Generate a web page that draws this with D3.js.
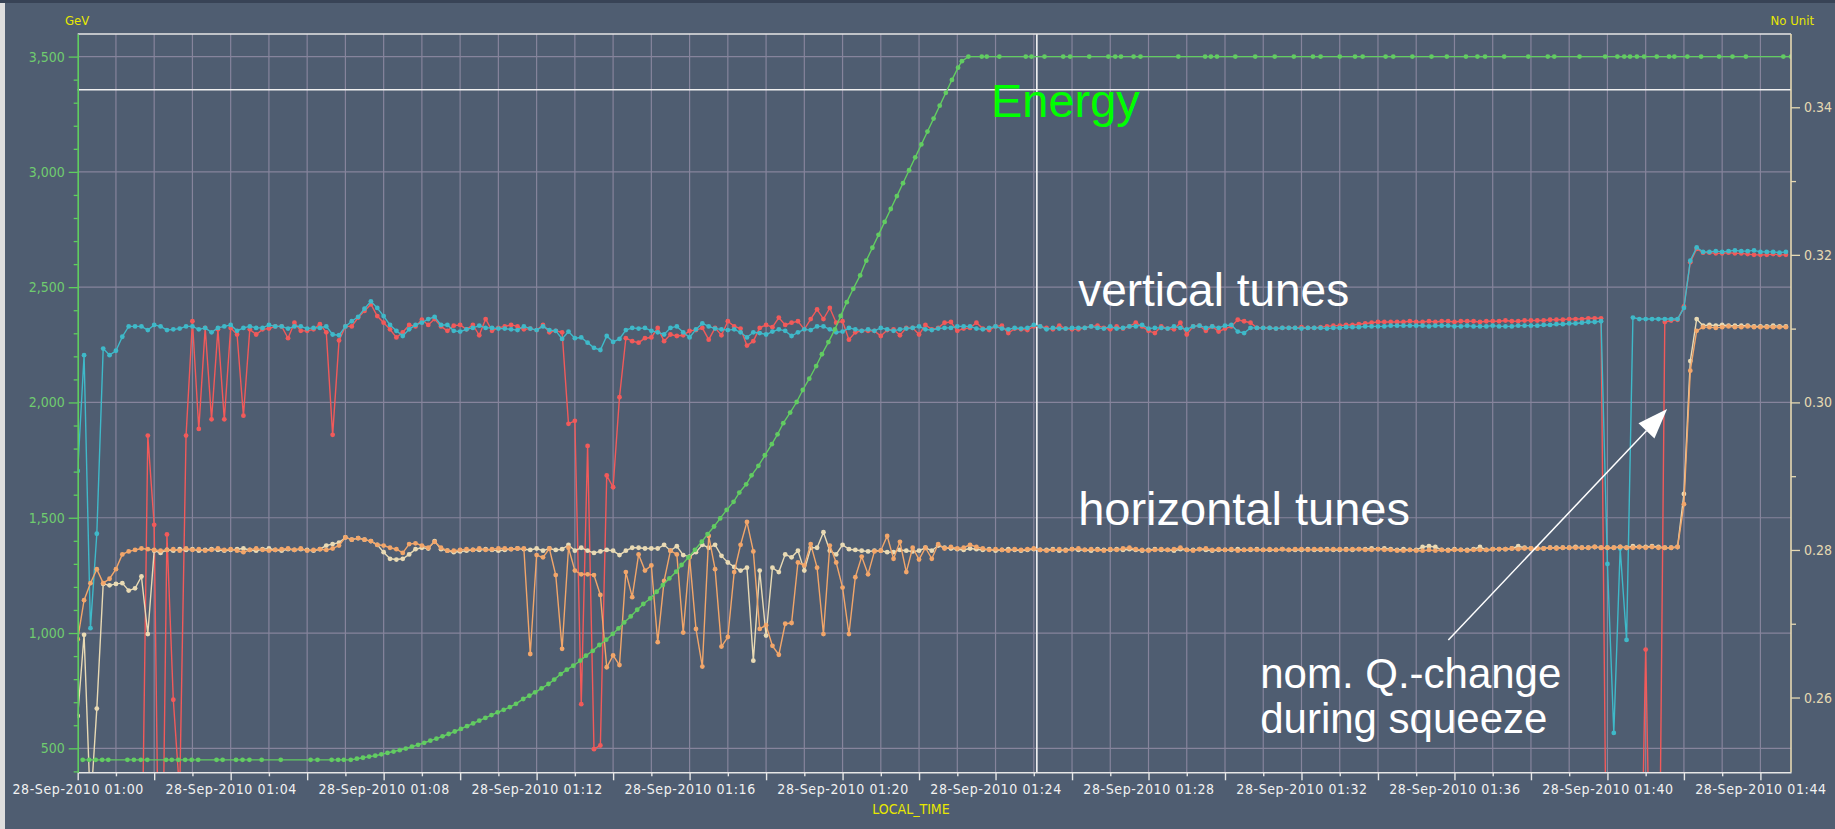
<!DOCTYPE html>
<html>
<head>
  <meta charset="utf-8">
  <title>LHC tunes through ramp and squeeze</title>
  <style>
  body {
    margin: 0;
    background: #4f5d71;
  }
  svg {
    display: block;
  }
  .axis text {
    font-family: "DejaVu Sans Condensed", "DejaVu Sans", sans-serif;
  }
  .note {
    font-family: "Liberation Sans", Arial, sans-serif;
  }
</style>
</head>

<body>
  <div id="viz"></div>

  <script src="https://d3js.org/d3.v7.min.js"></script>
  <script>
    // ---- data (28-Sep-2010, from 01:00) ----

    // tune samples, seconds after 01:00:00
    const tuneSec = [
      0,10,20,30,40,50,60,70,80,90,100,110,120,130,140,150,160,170,180,190,
      200,210,220,230,240,250,260,270,280,290,300,310,320,330,340,350,360,370,380,390,
      400,410,420,430,440,450,460,470,480,490,500,510,520,530,540,550,560,570,580,590,
      600,610,620,630,640,650,660,670,680,690,700,710,720,730,740,750,760,770,780,790,
      800,810,820,830,840,850,860,870,880,890,900,910,920,930,940,950,960,970,980,990,
      1000,1010,1020,1030,1040,1050,1060,1070,1080,1090,1100,1110,1120,1130,1140,1150,1160,1170,1180,1190,
      1200,1210,1220,1230,1240,1250,1260,1270,1280,1290,1300,1310,1320,1330,1340,1350,1360,1370,1380,1390,
      1400,1410,1420,1430,1440,1450,1460,1470,1480,1490,1500,1510,1520,1530,1540,1550,1560,1570,1580,1590,
      1600,1610,1620,1630,1640,1650,1660,1670,1680,1690,1700,1710,1720,1730,1740,1750,1760,1770,1780,1790,
      1800,1810,1820,1830,1840,1850,1860,1870,1880,1890,1900,1910,1920,1930,1940,1950,1960,1970,1980,1990,
      2000,2010,2020,2030,2040,2050,2060,2070,2080,2090,2100,2110,2120,2130,2140,2150,2160,2170,2180,2190,
      2200,2210,2220,2230,2240,2250,2260,2270,2280,2290,2300,2310,2320,2330,2340,2350,2360,2370,2380,2390,
      2400,2410,2420,2430,2440,2450,2460,2470,2480,2490,2500,2510,2520,2530,2540,2550,2560,2570,2580,2590,
      2600,2610,2620,2630,2640,2650,2660,2670,2680
    ];

    // vertical tune, beam 1 (red)
    const qVB1 = [
      .232,.232,.232,.232,.232,.232,.232,.232,.232,.232,
      .232,.2955,.2834,.215,.2821,.2597,.247,.2955,.311,.2964,
      .3101,.2977,.3099,.2977,.3101,.3092,.2982,.3099,.3092,.3099,
      .31,.3103,.3103,.3087,.3108,.3097,.3097,.3099,.3106,.3095,
      .2956,.3084,.3103,.3103,.3115,.3124,.3133,.3117,.3108,.3099,
      .3088,.3095,.3105,.3103,.3112,.3105,.3113,.3103,.3097,.3104,
      .3105,.3099,.3105,.3091,.3113,.3097,.3101,.3103,.3105,.3103,
      .3099,.31,.3098,.3105,.3095,.3097,.3095,.2971,.2975,.2591,
      .2941,.253,.2535,.2901,.2885,.3007,.3087,.3083,.3081,.3087,
      .3088,.3101,.3083,.3092,.309,.3091,.3097,.3098,.3101,.3085,
      .3101,.3091,.311,.3103,.31,.3077,.3083,.3101,.3105,.3102,
      .3115,.3105,.3108,.311,.3099,.3113,.3126,.3113,.3128,.3108,
      .311,.3085,.3095,.3097,.3097,.3097,.309,.3098,.3099,.3091,
      .3101,.3101,.3092,.3105,.3099,.3101,.3108,.3109,.3097,.31,
      .3101,.3108,.31,.3098,.3103,.3104,.3094,.31,.3099,.3098,
      .3103,.3103,.3101,.3099,.3104,.31,.3099,.3099,.3101,.3103,
      .3104,.3101,.3099,.3103,.31,.3103,.3108,.3103,.3097,.3094,
      .3103,.31,.3099,.3108,.3092,.3103,.3104,.3097,.3103,.3096,
      .31,.3103,.3112,.311,.3108,.3101,.3101,.3101,.31,.3101,
      .3101,.3101,.3102,.3101,.3101,.3102,.3103,.3104,.3104,.3105,
      .3105,.3106,.3107,.3108,.3109,.3109,.3109,.3109,.3109,.311,
      .3109,.3109,.311,.3109,.311,.311,.3109,.311,.311,.311,
      .3109,.311,.311,.311,.3111,.311,.311,.3111,.3111,.3111,
      .3111,.3112,.3112,.3112,.3113,.3113,.3113,.3114,.3114,.3114,
      .22,.22,.22,.22,.22,.22,.2665,.22,.22,.3109,
      .3111,.3112,.313,.319,.3208,.3203,.3203,.3202,.3202,.3203,
      .3202,.3202,.3201,.32,.32,.32,.3201,.32,.32
    ];

    // vertical tune, beam 2 (cyan)
    const qVB2 = [
      .2907,.3064,.2694,.2822,.3073,.3064,.307,.3089,.3103,.3103,
      .3103,.3098,.3105,.3103,.3098,.3099,.31,.3103,.3103,.3099,
      .3101,.3095,.3101,.3103,.3105,.3097,.3101,.3103,.3101,.3101,
      .3105,.3103,.3103,.31,.3103,.3103,.31,.3101,.3101,.3103,
      .3092,.3091,.3103,.311,.3116,.3127,.3137,.3128,.3117,.3105,
      .3097,.309,.3099,.3105,.3108,.3113,.3116,.3105,.3105,.3097,
      .3096,.3099,.3101,.3104,.3101,.3101,.31,.31,.3099,.3098,
      .3103,.31,.3098,.3103,.3098,.3097,.3086,.3096,.3087,.3088,
      .3081,.3074,.3071,.309,.3082,.3086,.3098,.3101,.31,.3101,
      .3097,.3095,.3092,.3101,.3103,.3095,.3088,.3099,.3107,.3103,
      .31,.3099,.3098,.3099,.3095,.3088,.3095,.3094,.3092,.3096,
      .3099,.3097,.309,.3095,.3099,.3098,.3103,.3103,.3099,.3095,
      .3096,.3101,.3099,.3097,.3099,.3097,.3101,.3099,.3097,.3099,
      .31,.3101,.3103,.3099,.3098,.31,.3101,.3101,.3103,.3103,
      .3103,.31,.3099,.3101,.3103,.31,.3099,.3101,.31,.3101,
      .3105,.3103,.3099,.3101,.31,.31,.3101,.3101,.3101,.3103,
      .3101,.31,.3103,.31,.3101,.3103,.3103,.3105,.31,.3101,
      .3101,.31,.3103,.3101,.3099,.3103,.3104,.3101,.3103,.3101,
      .3104,.3105,.3096,.3094,.3101,.3101,.3101,.3101,.31,.3101,
      .3101,.3101,.31,.3101,.3101,.3101,.31,.3101,.3101,.3102,
      .3102,.3102,.3103,.3103,.3103,.3103,.3104,.3104,.3104,.3104,
      .3104,.3104,.3103,.3104,.3104,.3104,.3103,.3103,.3104,.3103,
      .3103,.3103,.3104,.3103,.3103,.3103,.3104,.3104,.3104,.3104,
      .3105,.3105,.3106,.3106,.3107,.3107,.3108,.3109,.3109,.311,
      .2781,.2552,.2802,.2678,.3115,.3113,.3113,.3113,.3113,.3113,
      .3113,.3113,.3128,.3192,.321,.3204,.3204,.3205,.3204,.3205,
      .3206,.3205,.3205,.3206,.3204,.3204,.3204,.3203,.3204
    ];

    // horizontal tune, beam 1 (orange)
    const qHB1 = [
      .2679,.2732,.2755,.2774,.2755,.2761,.2774,.2794,.2798,.28,
      .2802,.2801,.28,.2799,.28,.2801,.2799,.2802,.28,.2801,
      .2799,.28,.2802,.28,.2801,.2799,.2797,.28,.2802,.28,
      .2799,.28,.2801,.2802,.28,.2802,.2799,.28,.2801,.28,
      .2802,.2806,.2817,.2814,.2816,.2814,.2812,.2807,.2806,.2803,
      .2801,.2796,.2808,.2809,.2806,.2803,.2811,.2803,.2799,.2799,
      .28,.2801,.28,.2802,.28,.2801,.2802,.2802,.2801,.2802,
      .2802,.2659,.2793,.279,.2802,.2766,.2666,.2803,.2772,.2767,
      .2767,.2766,.2739,.2641,.2657,.2644,.277,.2736,.2794,.2772,
      .2779,.2675,.2758,.2799,.2794,.2688,.279,.2693,.2642,.2819,
      .2774,.2669,.2682,.277,.2807,.2838,.2798,.2693,.2698,.267,
      .2658,.27,.2701,.2783,.2779,.2808,.2776,.2686,.2806,.2783,
      .2749,.2686,.2763,.2791,.2767,.2798,.2799,.2819,.2788,.2811,
      .277,.2803,.2787,.2803,.2788,.2808,.2802,.2804,.2802,.2803,
      .2807,.2804,.2802,.28,.2801,.28,.2799,.2801,.28,.2801,
      .2802,.28,.2799,.28,.2801,.2799,.2801,.2802,.28,.2801,
      .28,.2799,.2801,.28,.2802,.2803,.2801,.28,.2799,.28,
      .2801,.28,.2801,.2803,.28,.2799,.2801,.2802,.28,.2801,
      .28,.2801,.2799,.28,.2801,.28,.28,.2801,.28,.2801,
      .28,.2801,.2801,.28,.2801,.2801,.28,.2801,.2801,.28,
      .2801,.2801,.28,.28,.2801,.28,.28,.2799,.2799,.28,
      .2799,.2799,.28,.2799,.28,.2799,.28,.28,.2799,.28,
      .28,.28,.2801,.2801,.2801,.2802,.2801,.2802,.2802,.2802,
      .2802,.2803,.2802,.2803,.2803,.2803,.2803,.2803,.2804,.2803,
      .2803,.2803,.2804,.2803,.2803,.2804,.2803,.2804,.2803,.2803,
      .2803,.2804,.2862,.3043,.3097,.3102,.3102,.3101,.3102,.3103,
      .3102,.3102,.3103,.3102,.3102,.3102,.3102,.3102,.3102
    ];

    // horizontal tune, beam 2 (pale)
    const qHB2 = [
      .2575,.2685,.245,.2585,.2754,.2752,.2754,.2755,.2745,.2748,
      .2764,.2686,.2799,.2796,.28,.2799,.2801,.28,.2801,.2799,
      .28,.2801,.28,.2799,.28,.2801,.2802,.28,.2799,.2801,
      .2802,.28,.2799,.2801,.28,.2801,.28,.2799,.2801,.2806,
      .2808,.281,.2817,.2814,.2816,.2814,.2812,.2807,.2797,.2788,
      .2787,.2788,.2794,.2801,.2803,.2802,.2812,.2801,.2799,.2797,
      .2798,.2799,.28,.28,.2801,.28,.2799,.28,.2801,.2802,
      .2801,.28,.2802,.2799,.2802,.28,.2801,.2807,.2799,.2803,
      .2799,.2796,.2798,.28,.2799,.2793,.2799,.2803,.2803,.2802,
      .2802,.2802,.2807,.2799,.2805,.2793,.2791,.2797,.2807,.2803,
      .2807,.2792,.2783,.2777,.2772,.2776,.265,.2772,.2684,.2776,
      .277,.2794,.279,.2799,.2772,.2803,.2803,.2824,.2799,.2794,
      .2807,.2801,.28,.2799,.2798,.2799,.2799,.2797,.2797,.28,
      .2799,.2798,.2799,.2803,.2799,.2806,.2803,.2802,.2801,.28,
      .2802,.2801,.28,.2801,.2799,.28,.2801,.28,.2799,.28,
      .2801,.28,.28,.2801,.2799,.28,.2801,.28,.28,.2799,
      .2801,.28,.28,.2801,.28,.2801,.28,.2799,.28,.2801,
      .28,.28,.2799,.2801,.28,.28,.2801,.28,.2799,.28,
      .28,.28,.2801,.28,.28,.2801,.28,.28,.28,.2801,
      .28,.28,.28,.2801,.28,.28,.2801,.28,.28,.2801,
      .28,.2801,.2801,.2802,.2801,.2802,.2801,.28,.2801,.28,
      .28,.2804,.2805,.2804,.28,.28,.2801,.28,.28,.2801,
      .2804,.28,.2801,.2801,.2801,.2802,.2805,.2803,.2802,.2802,
      .2802,.2803,.2803,.2803,.2803,.2804,.2803,.2803,.2804,.2803,
      .2803,.2803,.2804,.2803,.2805,.2804,.2804,.2805,.2804,.2803,
      .2803,.2804,.2876,.3056,.3113,.3104,.3105,.3104,.3105,.3104,
      .3104,.3104,.3104,.3103,.3103,.3103,.3104,.3103,.3103
    ];

    // beam energy: minutes after 01:00, GeV
    const energyMin = [
      0.13,0.30,0.47,0.64,0.80,1.30,1.47,1.65,1.82,2.31,2.46,2.63,2.81,2.98,3.15,3.63,3.79,4.14,4.31,4.49,
      4.81,5.31,6.09,6.27,6.64,6.81,6.96,7.14,
      7.30,7.46,7.62,7.78,7.94,8.10,8.26,8.42,8.58,8.74,8.90,9.06,9.22,9.38,9.54,9.70,9.86,10.02,10.18,10.34,
      10.50,10.66,10.82,10.98,11.14,11.30,11.46,11.65,11.81,11.96,12.13,12.31,12.46,12.63,12.79,12.96,13.14,13.29,
      13.47,13.64,13.82,13.99,14.14,14.29,14.46,14.63,14.79,14.97,15.14,15.30,15.47,15.65,15.79,15.97,16.14,16.32,
      16.47,16.64,16.80,16.97,17.15,17.30,17.48,17.62,17.80,17.97,18.15,18.30,18.45,18.63,18.80,18.96,19.13,19.31,
      19.46,19.63,19.80,19.95,20.11,20.28,20.46,20.62,20.78,20.94,21.10,21.26,21.42,21.58,21.74,21.90,22.06,22.22,
      22.38,22.54,22.70,22.86,23.02,23.12,23.29,
      23.64,23.77,24.10,24.79,24.94,25.28,25.77,25.95,26.45,26.95,27.13,27.28,27.61,27.79,28.78,29.48,29.63,29.79,
      30.27,30.79,31.30,31.80,32.30,32.50,33.00,33.40,33.60,34.20,34.40,34.90,35.40,35.80,36.30,36.60,36.80,37.30,
      37.93,38.44,38.61,39.27,39.94,40.26,40.44,40.59,40.77,40.96,41.29,41.61,41.75,42.09,42.45,42.92,43.27,43.62,
      44.60,44.80
    ];
    const energyGeV = [
      450,450,450,450,450,450,450,450,450,450,450,450,450,450,450,450,450,450,450,450,
      450,450,450,450,450,450,450,450,
      455,459,464,468,474,480,486,492,499,507,515,524,533,542,552,562,573,584,596,608,
      620,632,644,656,667,679,693,714,728,743,760,779,798,822,841,858,880,902,
      923,948,971,996,1020,1046,1072,1101,1126,1150,1179,1208,1237,1266,1295,1328,1361,1396,
      1429,1462,1497,1534,1569,1609,1645,1684,1725,1771,1819,1862,1910,1956,2002,2054,2103,2158,
      2209,2262,2317,2375,2435,2493,2551,2615,2671,2727,2783,2839,2895,2951,3007,3063,3119,3175,
      3231,3287,3343,3399,3452,3480,3500,
      3500,3500,3500,3500,3500,3500,3500,3500,3500,3500,3500,3500,3500,3500,3500,3500,3500,3500,
      3500,3500,3500,3500,3500,3500,3500,3500,3500,3500,3500,3500,3500,3500,3500,3500,3500,3500,
      3500,3500,3500,3500,3500,3500,3500,3500,3500,3500,3500,3500,3500,3500,3500,3500,3500,3500,
      3500,3500
    ];

    // reference level (white line), cursor time, axis ranges
    const refLevelGeV = 3356;
    const cursorMin = 25.08;
    const timeSpanMin = 44.8;
    const energyDomain = [396, 3598];
    const tuneDomain = [0.25, 0.35];

    // ---- layout ----
    const svgWidth = 1835;
    const svgHeight = 829;
    const plot = {left: 77.7, right: 1791, top: 34, bottom: 772.3};
    const col = {
      bg: "#4f5d71", grid: "#86849c", spine: "#e6e6e6",
      energy: "#62cc62", energyAxis: "#5fcd5f", tuneAxis: "#e6d9b2",
      vb1: "#f25a5a", vb2: "#3fb9c9", hb1: "#f2a66a", hb2: "#e9dab4",
      unit: "#e8e800"
    };

    const t0 = new Date(2010, 8, 28, 1, 0, 0);
    const minToDate = m => new Date(t0.getTime() + m * 60000);

    if ([qVB1, qVB2, qHB1, qHB2].some(a => a.length !== tuneSec.length)) {
      console.warn("tune arrays out of step with tuneSec");
    }

    const svg = d3.select("#viz")
      .append("svg")
      .attr("width", svgWidth)
      .attr("height", svgHeight);

    svg.append("rect").attr("width", svgWidth).attr("height", svgHeight).attr("fill", col.bg);
    svg.append("rect").attr("width", svgWidth).attr("height", 3).attr("fill", "#384356");
    svg.append("rect").attr("y", 3).attr("width", 5).attr("height", svgHeight - 3).attr("fill", "#dedede");

    // scales
    let x = d3.scaleTime()
      .domain([t0, minToDate(timeSpanMin)])
      .range([plot.left, plot.right]);
    let yE = d3.scaleLinear().domain(energyDomain).range([plot.bottom, plot.top]);
    let yQ = d3.scaleLinear().domain(tuneDomain).range([771.3, 33.5]);

    // grid
    let grid = svg.append("g").attr("stroke", col.grid).attr("stroke-width", 1.2);
    grid.selectAll(".vg")
      .data(d3.timeMinute.range(minToDate(1), minToDate(timeSpanMin)))
      .join("line")
      .attr("x1", d => x(d)).attr("x2", d => x(d))
      .attr("y1", plot.top).attr("y2", plot.bottom);
    grid.selectAll(".hg")
      .data(d3.range(500, 3501, 500))
      .join("line")
      .attr("x1", plot.left).attr("x2", plot.right)
      .attr("y1", d => yE(d)).attr("y2", d => yE(d));

    // white reference line and cursor
    svg.append("line")
      .attr("x1", plot.left).attr("x2", plot.right)
      .attr("y1", yE(refLevelGeV)).attr("y2", yE(refLevelGeV))
      .attr("stroke", "#f0f0f0").attr("stroke-width", 1.6);
    svg.append("line")
      .attr("x1", x(minToDate(cursorMin))).attr("x2", x(minToDate(cursorMin)))
      .attr("y1", plot.top).attr("y2", plot.bottom)
      .attr("stroke", "#f4f4f4").attr("stroke-width", 1.6);

    // series
    svg.append("clipPath").attr("id", "plotclip")
      .append("rect")
      .attr("x", plot.left).attr("y", plot.top)
      .attr("width", plot.right - plot.left).attr("height", plot.bottom - plot.top);
    let marks = svg.append("g").attr("clip-path", "url(#plotclip)");

    function drawSeries(points, yScale, color) {
      let g = marks.append("g");
      g.append("path")
        .datum(points)
        .attr("fill", "none")
        .attr("stroke", color)
        .attr("stroke-width", 1.4)
        .attr("d", d3.line().x(d => x(d[0])).y(d => yScale(d[1])));
      g.selectAll("circle")
        .data(points)
        .join("circle")
        .attr("cx", d => x(d[0]))
        .attr("cy", d => yScale(d[1]))
        .attr("r", 2.4)
        .attr("fill", color);
    }

    const tuneTimes = tuneSec.map(s => new Date(t0.getTime() + s * 1000));
    drawSeries(tuneTimes.map((t, i) => [t, qVB1[i]]), yQ, col.vb1);
    drawSeries(tuneTimes.map((t, i) => [t, qVB2[i]]), yQ, col.vb2);
    drawSeries(tuneTimes.map((t, i) => [t, qHB2[i]]), yQ, col.hb2);
    drawSeries(tuneTimes.map((t, i) => [t, qHB1[i]]), yQ, col.hb1);
    drawSeries(energyMin.map((m, i) => [minToDate(m), energyGeV[i]]), yE, col.energy);

    // top spine
    svg.append("line")
      .attr("x1", plot.left).attr("x2", plot.right)
      .attr("y1", plot.top).attr("y2", plot.top)
      .attr("stroke", col.spine).attr("stroke-width", 1.6);

    // axes
    let fmtTime = d3.timeFormat("%d-%b-%Y %H:%M");
    let xAxis = d3.axisBottom(x)
      .ticks(d3.timeMinute.every(1))
      .tickSize(4)
      .tickSizeOuter(0)
      .tickFormat(d => d.getMinutes() % 4 === 0 ? fmtTime(d) : "");
    let gX = svg.append("g")
      .attr("class", "axis")
      .attr("transform", `translate(0,${plot.bottom})`)
      .call(xAxis);
    gX.select(".domain").attr("stroke", col.spine).attr("stroke-width", 1.6);
    gX.selectAll(".tick line")
      .attr("stroke", col.spine)
      .attr("stroke-width", 1.4)
      .attr("y2", d => d.getMinutes() % 2 === 0 ? 8 : 4);
    gX.selectAll(".tick text")
      .attr("y", 12)
      .attr("fill", "#f2f2f2")
      .style("font-size", "14px")
      .style("letter-spacing", "0.6px");

    let yAxisL = d3.axisLeft(yE)
      .tickValues(d3.range(400, 3598, 100))
      .tickSizeOuter(0)
      .tickFormat(d => d % 500 === 0 ? d3.format(",")(d) : "");
    let gL = svg.append("g")
      .attr("class", "axis")
      .attr("transform", `translate(${plot.left},0)`)
      .call(yAxisL);
    gL.select(".domain").attr("stroke", col.energyAxis).attr("stroke-width", 1.6);
    gL.selectAll(".tick line")
      .attr("stroke", col.energyAxis)
      .attr("stroke-width", 1.3)
      .attr("x2", d => d % 500 === 0 ? -9 : -4);
    gL.selectAll(".tick text")
      .attr("x", -13)
      .attr("fill", "#6fcc6f")
      .style("font-size", "14px");

    let yAxisR = d3.axisRight(yQ)
      .tickValues(d3.range(26, 35).map(v => v / 100))
      .tickSizeOuter(0)
      .tickFormat(d => Math.round(d * 100) % 2 === 0 ? d3.format(".2f")(d) : "");
    let gR = svg.append("g")
      .attr("class", "axis")
      .attr("transform", `translate(${plot.right},0)`)
      .call(yAxisR);
    gR.select(".domain")
      .attr("d", `M0,${plot.top}V${plot.bottom}`)
      .attr("stroke", col.tuneAxis).attr("stroke-width", 1.6);
    gR.selectAll(".tick line")
      .attr("stroke", col.tuneAxis)
      .attr("stroke-width", 1.3)
      .attr("x2", d => Math.round(d * 100) % 2 === 0 ? 9 : 5);
    gR.selectAll(".tick text")
      .attr("x", 13)
      .attr("fill", col.tuneAxis)
      .style("font-size", "14px");

    // unit and axis titles
    svg.append("text").attr("class", "axis").attr("x", 65).attr("y", 25)
      .attr("fill", col.unit).style("font-family", "DejaVu Sans Condensed").style("font-size", "13px")
      .text("GeV");
    svg.append("text").attr("x", 1814).attr("y", 25).attr("text-anchor", "end")
      .attr("fill", col.unit).style("font-family", "DejaVu Sans Condensed").style("font-size", "13px")
      .text("No Unit");
    svg.append("text").attr("x", 911).attr("y", 814).attr("text-anchor", "middle")
      .attr("fill", col.unit).style("font-family", "DejaVu Sans Condensed").style("font-size", "14px")
      .text("LOCAL_TIME");

    // annotations
    function note(str, minute, y, color, size) {
      svg.append("text")
        .attr("class", "note")
        .attr("x", x(minToDate(minute)))
        .attr("y", y)
        .attr("fill", color)
        .style("font-size", size + "px")
        .text(str);
    }
    note("Energy", 23.88, yE(3240), "#00ff00", 47);
    note("vertical tunes", 26.16, yQ(0.3130), "#ffffff", 46);
    note("horizontal tunes", 26.16, yQ(0.2834), "#ffffff", 47);
    note("nom. Q.-change", 30.92, yQ(0.2613), "#ffffff", 42);
    note("during squeeze", 30.92, yQ(0.2552), "#ffffff", 42);

    // arrow towards the squeeze tune change
    let ax1 = x(minToDate(35.84)), ay1 = yQ(0.2678);
    let ax2 = x(minToDate(41.56)), ay2 = yQ(0.2991);
    let ang = Math.atan2(ay2 - ay1, ax2 - ax1);
    let headLen = 30, headHalf = 11;
    let bx = ax2 - headLen * Math.cos(ang), by = ay2 - headLen * Math.sin(ang);
    svg.append("line")
      .attr("x1", ax1).attr("y1", ay1).attr("x2", bx).attr("y2", by)
      .attr("stroke", "#ffffff").attr("stroke-width", 1.5);
    svg.append("polygon")
      .attr("points", [
        [ax2, ay2],
        [bx + headHalf * Math.sin(ang), by - headHalf * Math.cos(ang)],
        [bx - headHalf * Math.sin(ang), by + headHalf * Math.cos(ang)]
      ].map(p => p.join(",")).join(" "))
      .attr("fill", "#ffffff");
  </script>

</body>
</html>
